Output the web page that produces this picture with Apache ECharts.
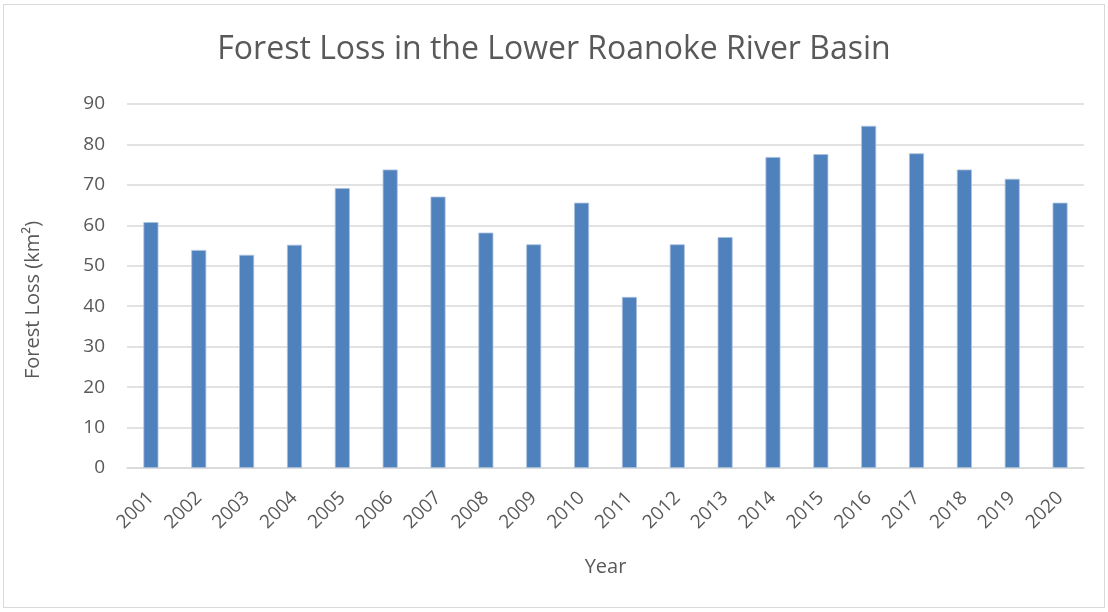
<!DOCTYPE html>
<html>
<head>
<meta charset="utf-8">
<script src="https://cdn.jsdelivr.net/npm/echarts@6/dist/echarts.min.js"></script>
<style>
  html, body { margin: 0; padding: 0; background: #fff; }
  #frame { position: absolute; left: 3px; top: 4px; width: 1102px; height: 604px; border: 1px solid #d9d9d9; box-sizing: border-box; }
  #chart { width: 1108px; height: 612px; }
</style>
</head>
<body>
<div id="frame"></div>
<div id="chart"></div>
<script>
// Annual forest loss, km²
const years = ['2001','2002','2003','2004','2005','2006','2007','2008','2009','2010',
               '2011','2012','2013','2014','2015','2016','2017','2018','2019','2020'];
const forestLoss = [60.8, 53.9, 52.7, 55.2, 69.2, 73.8, 67.1, 58.2, 55.3, 65.6,
                    42.3, 55.3, 57.1, 76.9, 77.6, 84.6, 77.8, 73.8, 71.5, 65.6];

const textColor = '#595959';
const gridColor = '#d9d9d9';
const font = 'Open Sans';

const chart = echarts.init(document.getElementById('chart'), null, { renderer: 'canvas' });
chart.setOption({
  animation: false,
  backgroundColor: 'transparent',
  title: {
    text: 'Forest Loss in the Lower Roanoke River Basin',
    left: 'center',
    top: 29,
    textStyle: { color: textColor, fontFamily: font, fontSize: 32, fontWeight: 'normal' }
  },
  grid: { left: 127, right: 24, top: 104, bottom: 144 },
  xAxis: {
    type: 'category',
    data: years,
    name: 'Year',
    nameLocation: 'middle',
    nameGap: 89,
    nameTextStyle: { color: textColor, fontFamily: font, fontSize: 20 },
    axisLine: { lineStyle: { color: gridColor, width: 1.5 } },
    axisTick: { show: false },
    axisLabel: { rotate: 45, color: textColor, fontFamily: font, fontSize: 19, margin: 27, interval: 0 }
  },
  yAxis: {
    type: 'value',
    min: 0, max: 90, interval: 10,
    name: 'Forest Loss (km²)',
    nameLocation: 'middle',
    nameGap: 84,
    nameTextStyle: { color: textColor, fontFamily: font, fontSize: 20, padding: [0, 28, 0, 0] },
    axisLine: { show: false },
    axisTick: { show: false },
    axisLabel: { color: textColor, fontFamily: font, fontSize: 19, margin: 22 },
    splitLine: { lineStyle: { color: gridColor, width: 1.5 } }
  },
  series: [{
    type: 'bar',
    data: forestLoss,
    barWidth: 15,
    itemStyle: { color: '#4f81bd', borderColor: '#a9c1df', borderWidth: 0.8 }
  }]
});
</script>
</body>
</html>
